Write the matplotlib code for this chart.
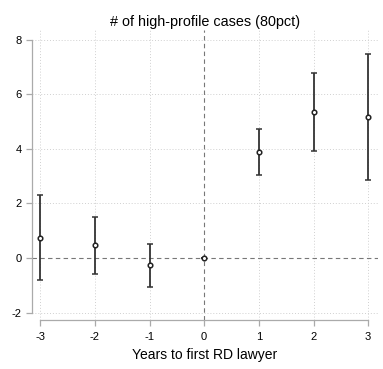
import matplotlib.pyplot as plt

years = [-3, -2, -1, 0, 1, 2, 3]
coef = [0.73, 0.46, -0.27, 0.0, 3.87, 5.34, 5.15]
ci_low = [-0.82, -0.58, -1.05, 0.0, 3.04, 3.92, 2.87]
ci_high = [2.31, 1.50, 0.52, 0.0, 4.71, 6.77, 7.46]
xticks = [-3, -2, -1, 0, 1, 2, 3]
xtick_labels = ['-3', '-2', '-1', '0', '1', '2', '3']
yticks = [-2, 0, 2, 4, 6, 8]
ytick_labels = ['-2', '0', '2', '4', '6', '8']

plt.rcParams.update({
    'font.family': ['Liberation Sans', 'DejaVu Sans'],
    'font.size': 8,
})

fig = plt.figure(figsize=(3.83, 3.69), dpi=100)
ax = fig.add_axes([32 / 383, 49 / 369, 346 / 383, 290 / 369])

for y in yticks:
    if y != 0:
        ax.axhline(y, color='#d0d0d0', linestyle=(0, (1, 2)), linewidth=0.7, zorder=0)
for x in xticks:
    if x != 0:
        ax.axvline(x, color='#d0d0d0', linestyle=(0, (1, 2)), linewidth=0.7, zorder=0)
ax.axhline(0, color='#777777', linestyle=(0, (4, 3)), linewidth=0.8, zorder=1)
ax.axvline(0, color='#777777', linestyle=(0, (4, 3)), linewidth=0.8, zorder=1)

err_lo = [c - lo for c, lo in zip(coef, ci_low)]
err_hi = [hi - c for c, hi in zip(coef, ci_high)]
ax.errorbar(years, coef, yerr=[err_lo, err_hi], fmt='o', color='#333333',
            ecolor='#333333', elinewidth=1.3, capsize=2.3, capthick=1.1,
            markersize=3.3, markerfacecolor='white', markeredgecolor='#222222',
            markeredgewidth=1.1, zorder=3)

ax.set_xlim(-3.15, 3.18)
ax.set_ylim(-2.27, 8.35)
ax.set_xticks(xticks)
ax.set_xticklabels(xtick_labels)
ax.set_yticks(yticks)
ax.set_yticklabels(ytick_labels)
ax.spines['top'].set_visible(False)
ax.spines['right'].set_visible(False)
ax.spines['left'].set_bounds(-2, 8)
ax.spines['bottom'].set_bounds(-3, 3)
for side in ['left', 'bottom']:
    ax.spines[side].set_color('#aaaaaa')
    ax.spines[side].set_linewidth(0.9)
ax.tick_params(axis='both', colors='#aaaaaa', labelcolor='black', length=4, width=0.9)
ax.tick_params(axis='x', pad=5)

ax.set_title('# of high-profile cases (80pct)', fontsize=10.4, pad=3)
ax.set_xlabel('Years to first RD lawyer', fontsize=10, labelpad=4)

fig.savefig('out.png', dpi=100)
